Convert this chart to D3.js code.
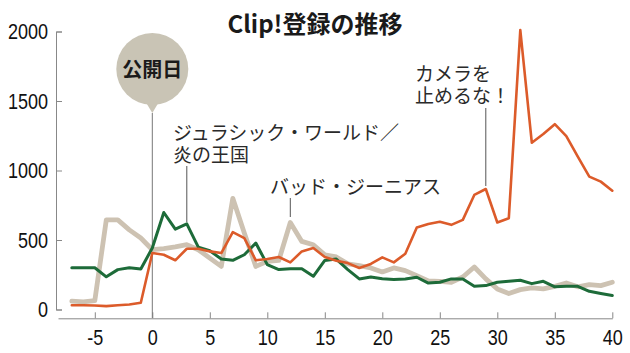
<!DOCTYPE html>
<html>
<head>
<meta charset="utf-8">
<script src="https://cdn.jsdelivr.net/npm/d3@7"></script>
<style>
  body { margin: 0; background: #fff; }
  .tick text { font-family: "Liberation Sans", Arial, sans-serif; }
  .jp { font-family: "Noto Sans CJK JP", sans-serif; }
</style>
</head>
<body>
<div id="wrapper"></div>
<script>
// days relative to release date
const days = [-7, -6, -5, -4, -3, -2, -1, 0, 1, 2, 3, 4, 5, 6, 7, 8, 9, 10,
  11, 12, 13, 14, 15, 16, 17, 18, 19, 20, 21, 22, 23, 24, 25, 26, 27, 28, 29, 30,
  31, 32, 33, 34, 35, 36, 37, 38, 39, 40]

// ジュラシック・ワールド／炎の王国
const jurassic = [300, 300, 300, 235, 287, 300, 292, 442, 698, 578, 616, 449, 423, 363, 354, 394,
  478, 323, 287, 294, 294, 239, 353, 363, 287, 220, 234, 222, 215, 220, 232, 190,
  196, 220, 220, 167, 172, 196, 203, 210, 186, 203, 163, 167, 167, 131, 115, 100]

// カメラを止めるな！
const camera = [31, 31, 29, 24, 31, 36, 48, 406, 394, 354, 437, 437, 418, 406, 557, 514,
  354, 363, 378, 339, 418, 442, 378, 351, 334, 299, 328, 375, 339, 401, 590, 615,
  631, 609, 645, 824, 867, 626, 657, 2010, 1200, 1262, 1333, 1247, 1099, 956, 920, 855]

// バッド・ジーニアス
const badGenius = [60, 55, 64, 645, 645, 573, 514, 430, 438, 450, 466, 430, 370, 310, 800, 550,
  310, 346, 353, 626, 490, 466, 394, 378, 328, 315, 299, 270, 299, 280, 244, 206,
  203, 196, 234, 306, 220, 148, 115, 143, 155, 148, 167, 191, 163, 179, 172, 196]

const xTicks = [-5, 0, 5, 10, 15, 20, 25, 30, 35, 40]
const yTicks = [0, 500, 1000, 1500, 2000]

const title = "Clip!登録の推移"

const width = 630
const height = 353
const squeeze = 0.82   // condensed look for the numerals

const svg = d3.select("#wrapper")
  .append("svg")
    .attr("width", width)
    .attr("height", height)

// scales
const xScale = d3.scaleLinear()
  .domain([-8.2, 40])
  .range([58, 612.3])

const yScale = d3.scaleLinear()
  .domain([0, 2000])
  .range([309.5, 31.5])

// axes
const yAxis = svg.append("g")
    .attr("transform", "translate(56,0)")
    .call(d3.axisLeft(yScale)
      .tickValues(yTicks)
      .tickSizeInner(-6)
      .tickSizeOuter(-6)
      .tickPadding(8)
      .tickFormat(d3.format("d")))
yAxis.select(".domain").attr("stroke", "#888")
yAxis.selectAll(".tick line").attr("stroke", "#888")
yAxis.selectAll(".tick text")
    .attr("fill", "#111")
    .style("font-size", "22px")
    .attr("x", -8 / squeeze)
    .attr("transform", `scale(${squeeze},1)`)

const xAxis = svg.append("g")
    .attr("transform", "translate(0,318.3)")
    .call(d3.axisBottom(xScale)
      .tickValues(xTicks)
      .tickSizeInner(-6)
      .tickSizeOuter(0)
      .tickPadding(11))
xAxis.select(".domain").attr("stroke", "#888")
xAxis.selectAll(".tick line").attr("stroke", "#888")
xAxis.selectAll(".tick text")
    .attr("fill", "#111")
    .style("font-size", "22px")
    .attr("transform", `scale(${squeeze},1)`)
    .text(d => d < 0 ? "-" + Math.abs(d) : d)

// release-day marker
const x0 = xScale(0)
svg.append("line")
    .attr("x1", x0).attr("x2", x0)
    .attr("y1", 113).attr("y2", 318)
    .attr("stroke", "#777")
    .attr("stroke-width", 1)

const bubbleColor = "#c9c4b5"
svg.append("circle")
    .attr("cx", x0).attr("cy", 69)
    .attr("r", 36)
    .attr("fill", bubbleColor)
svg.append("path")
    .attr("d", `M${x0 - 6},103 L${x0},113 L${x0 + 6},103 Z`)
    .attr("fill", bubbleColor)
svg.append("text")
    .attr("class", "jp")
    .attr("x", x0)
    .attr("y", 77)
    .attr("text-anchor", "middle")
    .style("font-size", "20px")
    .style("font-weight", "bold")
    .attr("fill", "#1a1a1a")
    .text("公開日")

// lines
const lineGen = values => d3.line()
  .x((d, i) => xScale(days[i]))
  .y(d => yScale(d))(values)

const series = [
  {values: badGenius, color: "#cdc2b2", width: 4.8},
  {values: jurassic, color: "#1d6b39", width: 3},
  {values: camera, color: "#dc5b2a", width: 2.6},
]

svg.append("g")
  .selectAll("path")
  .data(series)
  .join("path")
    .attr("d", d => lineGen(d.values))
    .attr("fill", "none")
    .attr("stroke", d => d.color)
    .attr("stroke-width", d => d.width)
    .attr("stroke-linejoin", "round")
    .attr("stroke-linecap", "round")

// annotations
const annotations = [
  {day: 3, lines: ["ジュラシック・ワールド／", "炎の王国"], tx: 173, ty: 140, y1: 166, y2: 222},
  {day: 12, lines: ["バッド・ジーニアス"], tx: 270, ty: 194, y1: 198, y2: 217},
  {day: 29, lines: ["カメラを", "止めるな！"], tx: 415, ty: 81, y1: 108, y2: 186},
]

annotations.forEach(a => {
  svg.append("line")
      .attr("x1", xScale(a.day)).attr("x2", xScale(a.day))
      .attr("y1", a.y1).attr("y2", a.y2)
      .attr("stroke", "#555")
      .attr("stroke-width", 1)
  a.lines.forEach((l, i) => {
    svg.append("text")
        .attr("class", "jp")
        .attr("x", a.tx)
        .attr("y", a.ty + i * 22)
        .style("font-size", "19px")
        .attr("fill", "#2a2a2a")
        .text(l)
  })
})

// title
svg.append("text")
    .attr("class", "jp")
    .attr("x", 315)
    .attr("y", 33)
    .attr("text-anchor", "middle")
    .style("font-size", "24px")
    .style("font-weight", "bold")
    .attr("fill", "#1a1a1a")
    .text(title)
</script>
</body>
</html>
